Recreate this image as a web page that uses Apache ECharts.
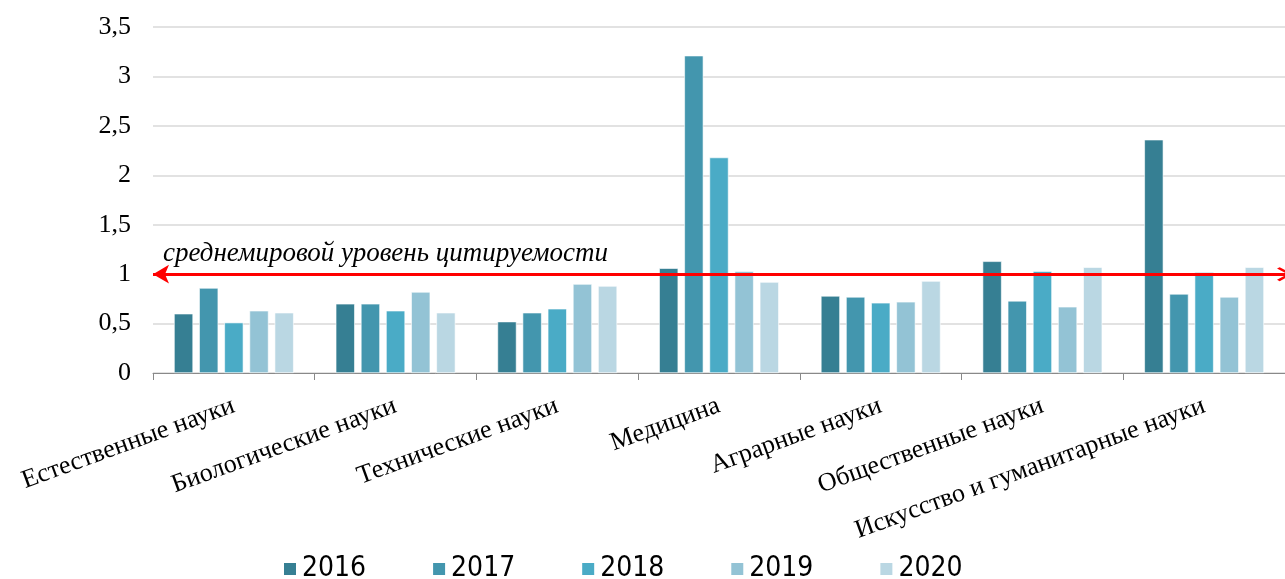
<!DOCTYPE html>
<html>
<head>
<meta charset="utf-8">
<script src="https://cdn.jsdelivr.net/npm/echarts@6/dist/echarts.min.js"></script>
<style>
  html, body { margin: 0; padding: 0; background: #fff; }
  #chart { width: 1285px; height: 579px; }
</style>
</head>
<body>
<div id="chart"></div>
<script>
var categories = ['Естественные науки', 'Биологические науки', 'Технические науки', 'Медицина',
  'Аграрные науки', 'Общественные науки', 'Искусство и гуманитарные науки'];
var years = ['2016', '2017', '2018', '2019', '2020'];
var v2016 = [0.60, 0.70, 0.52, 1.06, 0.78, 1.13, 2.36];
var v2017 = [0.86, 0.70, 0.61, 3.21, 0.77, 0.73, 0.80];
var v2018 = [0.51, 0.63, 0.65, 2.18, 0.71, 1.03, 1.02];
var v2019 = [0.63, 0.82, 0.90, 1.03, 0.72, 0.67, 0.77];
var v2020 = [0.61, 0.61, 0.88, 0.92, 0.93, 1.07, 1.07];
var worldLevel = 1;
var worldLabel = 'среднемировой уровень цитируемости';

var colors = ['#367f93', '#4396ae', '#4aabc6', '#93c3d5', '#bad7e3'];
var values = [v2016, v2017, v2018, v2019, v2020];

var chart = echarts.init(document.getElementById('chart'));

var series = years.map(function (y, i) {
  var s = {
    name: y,
    type: 'bar',
    data: values[i],
    barGap: '32%',
    barCategoryGap: '26%',
    itemStyle: { color: colors[i], borderColor: '#fff', borderWidth: 0.6 }
  };
  if (i === 0) {
    // red arrow line at the world average level
    s.markLine = {
      silent: true,
      symbol: ['arrow', 'path://M0,0 L10,10 L8,12 L0,4 L-8,12 L-10,10 Z'],
      symbolSize: [14, 16],
      lineStyle: { color: '#ff0000', width: 3, type: 'solid' },
      label: {
        show: true,
        position: 'insideStartTop',
        formatter: worldLabel,
        fontFamily: 'Liberation Serif',
        fontStyle: 'italic',
        fontSize: 27,
        color: '#000',
        distance: [10, 7]
      },
      data: [{ yAxis: worldLevel }]
    };
  }
  return s;
});

chart.setOption({
  animation: false,
  grid: { left: 153, top: 27, right: -11, bottom: 206, containLabel: false },
  legend: {
    top: 550,
    left: 277,
    itemWidth: 14,
    itemHeight: 14,
    itemGap: 65,
    icon: 'rect',
    textStyle: { fontFamily: 'DejaVu Sans Condensed, sans-serif', fontSize: 28, color: '#000' },
    data: years
  },
  xAxis: {
    type: 'category',
    data: categories,
    axisLine: { lineStyle: { color: '#898989', width: 1 } },
    axisTick: { show: true, length: 7, lineStyle: { color: '#898989' } },
    axisLabel: {
      rotate: 20,
      margin: 32,
      interval: 0,
      fontFamily: 'Liberation Serif',
      fontSize: 26,
      color: '#000'
    }
  },
  yAxis: {
    type: 'value',
    min: 0,
    max: 3.5,
    interval: 0.5,
    axisLine: { show: false },
    axisTick: { show: false },
    splitLine: { lineStyle: { color: '#d9d9d9', width: 1.5 } },
    axisLabel: {
      margin: 22,
      fontFamily: 'Liberation Serif',
      fontSize: 26,
      color: '#000',
      formatter: function (v) { return String(v).replace('.', ','); }
    }
  },
  series: series
});
</script>
</body>
</html>
